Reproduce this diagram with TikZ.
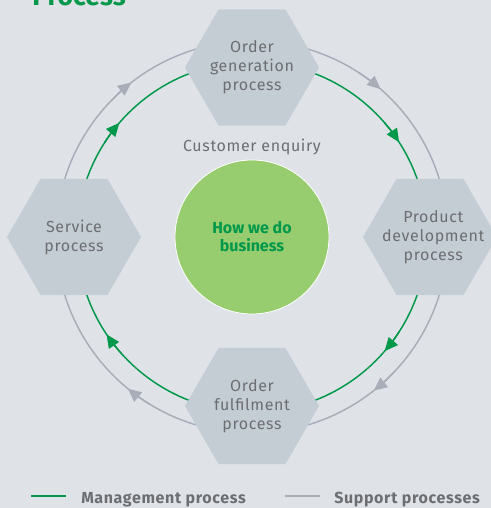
\documentclass[tikz,border=0pt]{standalone}
\usepackage{fontspec}
\setmainfont{Fira Sans}[LetterSpace=4]
\newfontfamily\tightfont{Fira Sans}
\usetikzlibrary{shapes.geometric,arrows.meta}

\definecolor{bgback}{HTML}{DFE3E7}
\definecolor{hexfill}{HTML}{C4CDD4}
\definecolor{txtgray}{HTML}{6D6E72}
\definecolor{mgreen}{HTML}{00984A}
\definecolor{sgray}{HTML}{A8ADB8}
\definecolor{diskgreen}{HTML}{97CD6F}

\begin{document}
\begin{tikzpicture}[x=.75pt,y=.75pt,
  hexa/.style={regular polygon, regular polygon sides=6, minimum size=100.5pt, inner sep=0pt, fill=hexfill},
  hextxt/.style={align=center, text=txtgray, font=\fontsize{12}{14.25}\selectfont},
  mline/.style={mgreen, line width=1.1pt},
  sline/.style={sgray, line width=1.1pt},
  tipa/.style={-{Triangle[length=10pt,width=9pt]}},
  legtxt/.style={anchor=base west, inner sep=0pt, text=txtgray, font=\bfseries\fontsize{12}{14}\selectfont}]

\path[clip] (-252,-271) rectangle (239,237);
\fill[bgback] (-252,-271) rectangle (239,237);

\coordinate (c) at (0,0);

% the two rings
\draw[sline] (c) circle[radius=196];
\draw[mline] (c) circle[radius=175];

\foreach \a in {128,49,-51.6,230.7}
  \draw[sline, tipa] ({\a+8}:196) arc[start angle=\a+8, end angle=\a, radius=196];
\foreach \a in {139.3,32.8,-40.7,213.8}
  \draw[mline, tipa] ({\a+8}:175) arc[start angle=\a+8, end angle=\a, radius=175];

% hexagons
\node[hexa] (gen) at (0,169.5) {};
\node[hexa] (dev) at (178,0) {};
\node[hexa] (ful) at (0,-169) {};
\node[hexa] (ser) at (-178,0) {};

\node[hextxt] (gen-t) at (gen) {Order\\generation\\process};
\node[hextxt] (dev-t) at ([xshift=2.5pt]dev) {Product\\development\\process};
\node[hextxt] (ful-t) at (ful) {Order\\fulfilment\\process};
\node[hextxt] (ser-t) at (ser) {Service\\process};

% centre
\node[circle, fill=diskgreen, draw=white, line width=.6pt, minimum size=115.5pt, inner sep=0pt,
  align=center, text=mgreen, font=\tightfont\bfseries\fontsize{12}{13.5}\selectfont] (core) at (c) {How we do\\business};
\node[hextxt, anchor=base] (enq) at (0,86) {Customer enquiry};

% title
\node[anchor=base west, inner sep=0pt, text=mgreen, font=\tightfont\bfseries\fontsize{20}{22}\selectfont] (ttl) at (-220,232) {Process};

% legend
\coordinate (m1) at (-221,-259);
\coordinate (m2) at (-186,-259);
\coordinate (s1) at (33,-259);
\coordinate (s2) at (68,-259);
\draw[mline] (m1) -- (m2);
\draw[sline] (s1) -- (s2);
\node[legtxt] (mtxt) at (-171,-266) {Management process};
\node[legtxt] (stxt) at (82,-266) {Support processes};
\end{tikzpicture}
\end{document}
